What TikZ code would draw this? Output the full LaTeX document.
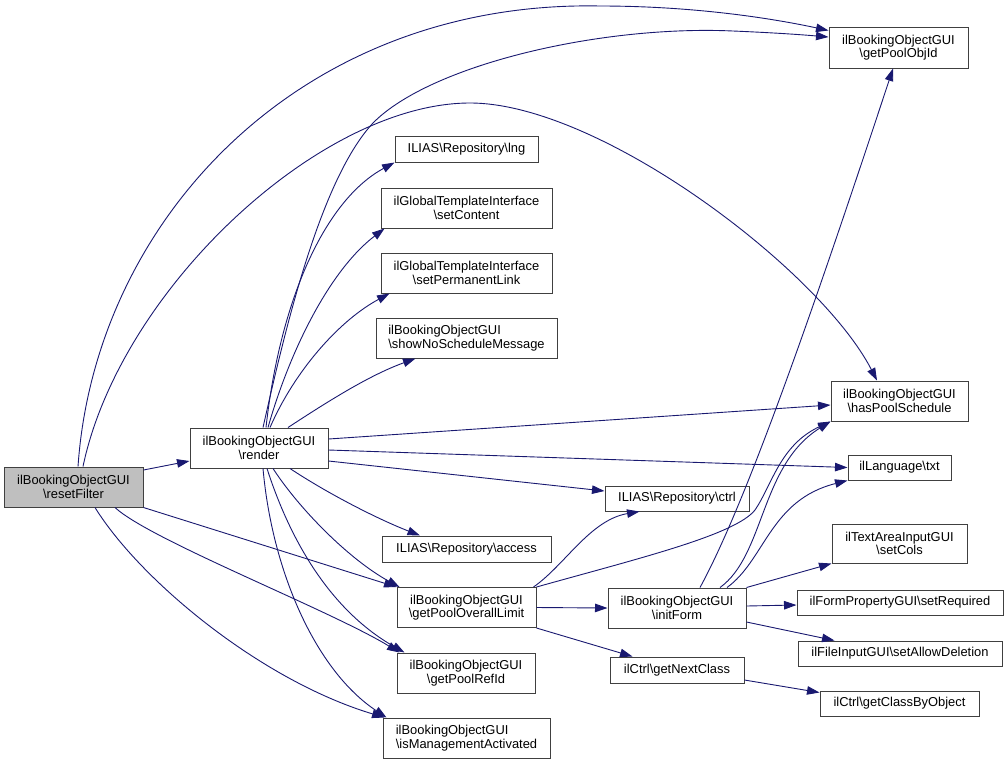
\documentclass[tikz,border=0pt]{standalone}
\usepackage{fontspec}
\setmainfont{Liberation Sans}
\usepackage{tikz}
\usetikzlibrary{arrows.meta}

\definecolor{edgeblue}{HTML}{191970}
\definecolor{boxgray}{HTML}{404040}
\definecolor{curfill}{HTML}{BFBFBF}
\newcommand{\bsl}{\textbackslash}

\begin{document}
\begin{tikzpicture}[x=1pt,y=-1pt,
  fn/.style 2 args={draw=boxgray,line width=1pt,fill=white,inner sep=0pt,align=center,
    minimum width=#1pt,minimum height=#2pt,font=\fontsize{12.9}{13.5}\selectfont},
  edge/.style={draw=edgeblue,line width=0.9pt,-{Triangle[length=12.5pt,width=8.5pt]}}]
\useasboundingbox (0,0) rectangle (1008,764);

% function boxes
\node[fn={139}{40},fill=curfill] (rf) at (73.5,487) {ilBookingObjectGUI\\\bsl resetFilter};
\node[fn={138}{40}] (rd) at (259,448) {ilBookingObjectGUI\\\bsl render};
\node[fn={139}{41}] (pobj) at (898.5,47.5) {ilBookingObjectGUI\\\bsl getPoolObjId};
\node[fn={143}{26}] (lng) at (466.5,149) {ILIAS\bsl Repository\bsl lng};
\node[fn={171}{40}] (setc) at (466.5,208) {ilGlobalTemplateInterface\\\bsl setContent};
\node[fn={171}{40}] (setpl) at (466.5,273) {ilGlobalTemplateInterface\\\bsl setPermanentLink};
\node[fn={181}{40},align=left] (nosch) at (466.5,338) {ilBookingObjectGUI\\\bsl showNoScheduleMessage};
\node[fn={137}{40}] (haspool) at (899.5,401) {ilBookingObjectGUI\\\bsl hasPoolSchedule};
\node[fn={103}{25}] (txt) at (899.5,467.5) {ilLanguage\bsl txt};
\node[fn={144}{25}] (ctrl) at (677,498.5) {ILIAS\bsl Repository\bsl ctrl};
\node[fn={169}{26}] (access) at (466.5,549) {ILIAS\bsl Repository\bsl access};
\node[fn={139}{40}] (plimit) at (466.5,607.5) {ilBookingObjectGUI\\\bsl getPoolOverallLimit};
\node[fn={138}{40}] (initf) at (677,608) {ilBookingObjectGUI\\\bsl initForm};
\node[fn={135}{39}] (setcols) at (899.5,543.5) {ilTextAreaInputGUI\\\bsl setCols};
\node[fn={206}{25}] (setreq) at (900,602.5) {ilFormPropertyGUI\bsl setRequired};
\node[fn={204}{25}] (setdel) at (900,653.5) {ilFileInputGUI\bsl setAllowDeletion};
\node[fn={134}{26}] (nextc) at (677,670) {ilCtrl\bsl getNextClass};
\node[fn={159}{25}] (classby) at (899.5,703.5) {ilCtrl\bsl getClassByObject};
\node[fn={138}{40}] (prefid) at (466,673) {ilBookingObjectGUI\\\bsl getPoolRefId};
\node[fn={167}{40},align=left] (mgmt) at (466.5,738) {ilBookingObjectGUI\\\bsl isManagementActivated};

% calls from resetFilter
\draw[edge] ([yshift=17pt]rf.east) -- ([yshift=-13pt]rd.west);
\draw[edge] ([xshift=4.5pt]rf.north) .. controls (95,220) and (300,0) .. (600,6)
  .. controls (700,6) and (780,20) .. ([yshift=17pt]pobj.west);
\draw[edge] ([xshift=9.5pt]rf.north) .. controls (120,290) and (320,103) .. (470,103)
  .. controls (600,103) and (820,270) .. ([xshift=-22.5pt]haspool.north);
\draw[edge] (rf.south east) -- (plimit.north west);
\draw[edge] ([xshift=41.5pt]rf.south) .. controls (150,540) and (330,610) .. ([xshift=3pt]prefid.north west);
\draw[edge] ([xshift=21.5pt]rf.south) .. controls (140,580) and (260,680) .. ([xshift=2pt]mgmt.north west);

% calls from render
\draw[edge] ([xshift=4pt]rd.north) .. controls (285,330) and (320,180) .. (373,123)
  .. controls (430,65) and (600,25) .. (733,31)
  .. controls (780,33) and (805,35) .. ([yshift=10.5pt]pobj.west);
\draw[edge] ([xshift=7pt]rd.north) .. controls (280,300) and (325,200) .. (lng.south west);
\draw[edge] ([xshift=9pt]rd.north) .. controls (290,350) and (330,270) .. ([xshift=4pt]setc.south west);
\draw[edge] ([xshift=11pt]rd.north) .. controls (295,370) and (340,320) .. ([xshift=9pt]setpl.south west);
\draw[edge] ([xshift=29pt]rd.north) .. controls (330,400) and (370,375) .. ([xshift=40pt]nosch.south west);
\draw[edge] ([yshift=9pt]rd.east) -- ([yshift=-4pt]haspool.west);
\draw[edge] ([yshift=-2pt]rd.east) -- (txt.west);
\draw[edge] ([yshift=-13pt]rd.east) -- ([yshift=7.5pt]ctrl.west);
\draw[edge] ([xshift=31pt]rd.south) .. controls (330,495) and (380,520) .. ([xshift=-46.5pt]access.north);
\draw[edge] ([xshift=14pt]rd.south) .. controls (300,510) and (350,560) .. ([xshift=3pt]plimit.north west);
\draw[edge] ([xshift=8pt]rd.south) .. controls (290,540) and (330,610) .. ([xshift=8pt]prefid.north west);
\draw[edge] ([xshift=4pt]rd.south) .. controls (272,570) and (315,670) .. ([xshift=4pt]mgmt.north west);

% calls from getPoolOverallLimit
\draw[edge] ([xshift=-3pt]plimit.north east) .. controls (565,565) and (590,520) .. ([xshift=35pt]ctrl.south west);
\draw[edge] (plimit.north east) .. controls (640,558) and (735,535) .. (755,510)
  .. controls (772,485) and (780,445) .. (haspool.south west);
\draw[edge] (plimit.east) -- (initf.west);
\draw[edge] (plimit.south east) -- ([xshift=23pt]nextc.north west);

% calls from initForm
\draw[edge] ([xshift=23pt]initf.north) .. controls (745,505) and (810,320) .. ([xshift=-5.5pt]pobj.south);
\draw[edge] ([xshift=43pt]initf.north) .. controls (765,555) and (760,465) .. (haspool.south west);
\draw[edge] ([xshift=50pt]initf.north) .. controls (765,560) and (770,500) .. (txt.south west);
\draw[edge] (initf.north east) -- (setcols.south west);
\draw[edge] ([yshift=2pt]initf.east) -- ([yshift=-2.5pt]setreq.west);
\draw[edge] ([yshift=-14pt]initf.east) -- ([xshift=37pt]setdel.north west);

% calls from getNextClass
\draw[edge] ([yshift=-10pt]nextc.east) -- ([yshift=11pt]classby.west);
\end{tikzpicture}
\end{document}
